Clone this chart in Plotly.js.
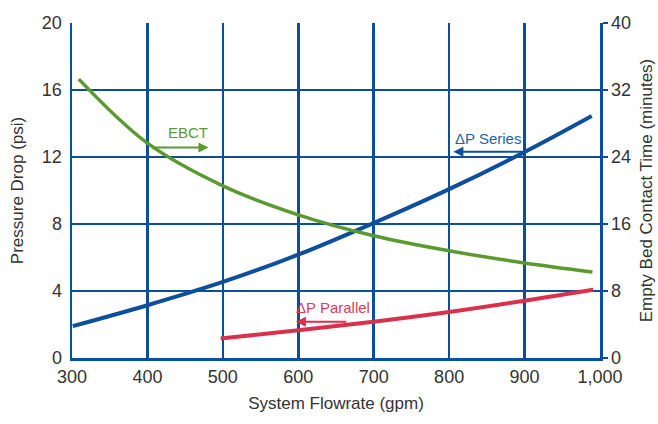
<!DOCTYPE html>
<html>
<head>
<meta charset="utf-8">
<script src="https://cdn.plot.ly/plotly-3.0.1.min.js"></script>
<style>html,body{margin:0;padding:0;background:#fff;}#chart{width:658px;height:424px;}</style>
</head>
<body>
<div id="chart"></div>
<script>
// Data
const seriesFlow = [301, 400, 500, 600, 700, 800, 900, 989];
const seriesDp = [1.9, 3.15, 4.54, 6.17, 8.06, 10.08, 12.3, 14.45];

const ebctFlow = [309, 400, 500, 600, 700, 800, 900, 990];
const ebctMin = [33.3, 25.65, 20.56, 17.1, 14.6, 12.8, 11.35, 10.27];

const parallelFlow = [497, 600, 700, 800, 900, 991];
const parallelDp = [1.16, 1.66, 2.17, 2.75, 3.42, 4.08];

const xTickVals = [300, 400, 500, 600, 700, 800, 900, 1000];
const xTickText = ['300', '400', '500', '600', '700', '800', '900', '1,000'];
const yTickVals = [0, 4, 8, 12, 16, 20];
const y2TickVals = [0, 8, 16, 24, 32, 40];

const GRID = '#0b4f9c';
const BLUE = '#0d4f9c';
const GREEN = '#5b9a2f';
const RED = '#d9304c';
const FONT = '"Liberation Sans", Arial, sans-serif';

const traces = [
  {x: ebctFlow, y: ebctMin, yaxis: 'y2', mode: 'lines', name: 'EBCT',
   line: {color: GREEN, width: 3.5, shape: 'spline'}, hoverinfo: 'skip'},
  {x: parallelFlow, y: parallelDp, mode: 'lines', name: 'ΔP Parallel',
   line: {color: RED, width: 4, shape: 'spline'}, hoverinfo: 'skip'},
  {x: seriesFlow, y: seriesDp, mode: 'lines', name: 'ΔP Series',
   line: {color: BLUE, width: 4, shape: 'spline'}, hoverinfo: 'skip'}
];

const layout = {
  width: 658, height: 424,
  margin: {l: 72, r: 58, t: 23, b: 66},
  paper_bgcolor: '#fff', plot_bgcolor: '#fff',
  showlegend: false,
  font: {family: FONT, color: '#333', size: 18},
  xaxis: {
    range: [300, 1000], tickvals: xTickVals, ticktext: xTickText,
    showgrid: true, gridcolor: GRID, gridwidth: 2.5,
    zeroline: false, showline: true, linecolor: GRID, linewidth: 3,
    ticks: '', tickfont: {size: 18, color: '#333'},
    title: {text: 'System Flowrate (gpm)', font: {size: 17, color: '#333'}, standoff: 12},
    fixedrange: true
  },
  yaxis: {
    range: [0, 20], tickvals: yTickVals,
    showgrid: true, gridcolor: GRID, gridwidth: 2.5,
    zeroline: false, showline: true, linecolor: GRID, linewidth: 2.5,
    ticks: '', ticklabelstandoff: 4, tickfont: {size: 18, color: '#333'},
    title: {text: 'Pressure Drop (psi)', font: {size: 17, color: '#333'}, standoff: 14},
    fixedrange: true
  },
  yaxis2: {
    range: [0, 40], tickvals: y2TickVals, overlaying: 'y', side: 'right',
    showgrid: false, zeroline: false, showline: true, linecolor: GRID, linewidth: 2.5,
    ticks: 'outside', ticklen: 5, tickwidth: 2.5, tickcolor: GRID,
    tickfont: {size: 18, color: '#333'},
    title: {text: 'Empty Bed Contact Time (minutes)', font: {size: 17, color: '#333'}, standoff: 10},
    fixedrange: true
  },
  annotations: [
    {x: 481, y: 12.56, xref: 'x', yref: 'y', text: '', showarrow: true,
     ax: -55, ay: 0, arrowhead: 2, arrowsize: 1, arrowwidth: 2, arrowcolor: GREEN},
    {x: 454, y: 13.44, xref: 'x', yref: 'y', text: 'EBCT', showarrow: false,
     font: {size: 15, color: GREEN, family: FONT}},
    {x: 805.6, y: 12.32, xref: 'x', yref: 'y', text: '', showarrow: true,
     ax: 70, ay: 0, arrowhead: 2, arrowsize: 1, arrowwidth: 2, arrowcolor: BLUE},
    {x: 851.6, y: 13.08, xref: 'x', yref: 'y', text: 'ΔP Series', showarrow: false,
     font: {size: 15, color: '#2a5fa8', family: FONT}},
    {x: 596.8, y: 2.16, xref: 'x', yref: 'y', text: '', showarrow: true,
     ax: 52, ay: 0, arrowhead: 2, arrowsize: 1, arrowwidth: 2, arrowcolor: RED},
    {x: 646.2, y: 3.0, xref: 'x', yref: 'y', text: 'ΔP Parallel', showarrow: false,
     font: {size: 15, color: '#d6405a', family: FONT}}
  ]
};

Plotly.newPlot('chart', traces, layout, {displayModeBar: false, staticPlot: true});
</script>
</body>
</html>
